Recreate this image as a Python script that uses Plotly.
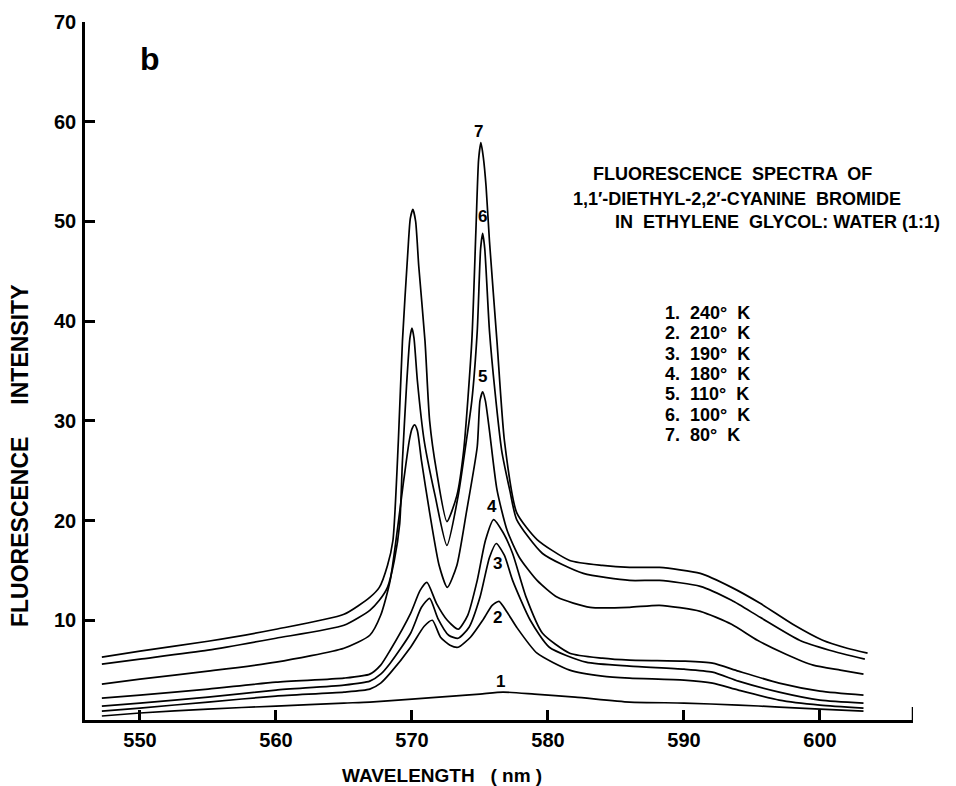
import plotly.graph_objects as go

# ---------------- data ----------------
wl7 = [547.2, 550, 555, 560, 565, 566.9, 567.6, 568.2, 568.6, 569.0, 569.3, 569.7, 569.88, 570.07, 570.27, 570.5, 570.96, 571.3, 571.8, 572.57, 573.3, 573.8, 574.4, 574.7, 574.9, 575.07, 575.25, 575.45, 575.7, 576.25, 576.8, 577.7, 579.2, 581.6, 584.0, 586.0, 588.2, 591.2, 593.5, 595.6, 598.0, 600.2, 602.0, 603.5]
fi7 = [6.3, 6.9, 7.9, 9.1, 10.6, 12.3, 13.3, 15.5, 18.0, 28.0, 38.0, 47.0, 50.3, 51.2, 50.0, 45.5, 38.0, 30.0, 25.0, 19.9, 22.5, 27.0, 38.0, 49.0, 56.2, 57.9, 56.4, 53.5, 48.0, 38.0, 28.0, 20.8, 18.1, 16.0, 15.5, 15.3, 15.3, 14.7, 13.3, 11.7, 9.6, 8.0, 7.2, 6.7]

wl6 = [547.2, 550, 555, 560, 565, 566.9, 567.6, 568.2, 568.7, 569.1, 569.3, 569.6, 569.85, 570.0, 570.15, 570.4, 570.9, 571.7, 572.57, 573.4, 574.0, 574.4, 574.8, 575.05, 575.2, 575.35, 575.7, 576.1, 576.6, 577.2, 577.7, 579.6, 582.6, 586.0, 588.2, 591.2, 593.5, 595.6, 598.5, 600.7, 603.3]
fi6 = [5.6, 6.1, 7.0, 8.2, 9.5, 11.0, 12.0, 13.3, 16.0, 19.7, 26.0, 33.5, 38.3, 39.3, 38.3, 34.0, 28.0, 22.5, 17.5, 22.5, 28.0, 32.0, 39.0, 47.3, 48.8, 47.3, 39.0, 33.0, 27.0, 23.0, 20.1, 16.7, 14.7, 14.0, 14.0, 13.4, 12.0, 10.3, 8.0, 7.0, 6.1]

wl5 = [547.2, 550, 555, 560, 565, 566.9, 567.7, 568.4, 569.4, 569.8, 570.0, 570.2, 570.4, 570.7, 571.3, 572.0, 572.6, 573.3, 574.0, 574.8, 575.0, 575.2, 575.4, 575.7, 576.25, 577.0, 577.9, 579.2, 580.7, 583.1, 586.0, 588.2, 591.2, 593.5, 595.4, 597.5, 599.5, 601.5, 603.2]
fi5 = [3.6, 4.1, 4.9, 5.8, 7.2, 8.5, 10.5, 14.0, 24.1, 28.0, 29.2, 29.6, 29.0, 26.0, 20.8, 15.5, 13.3, 15.5, 20.8, 27.4, 32.0, 32.9, 32.0, 29.0, 23.1, 19.0, 16.3, 14.0, 12.3, 11.3, 11.3, 11.5, 10.9, 9.6, 8.0, 6.6, 5.5, 5.0, 4.6]

wl4 = [547.2, 550, 555, 560, 565, 566.9, 567.7, 568.4, 569.9, 570.6, 571.1, 571.8, 572.6, 573.4, 574.1, 574.8, 575.4, 576.0, 576.7, 577.4, 578.4, 579.6, 581.6, 584.0, 586.0, 590.0, 592.1, 594.0, 597.0, 600.0, 603.2]
fi4 = [2.2, 2.5, 3.1, 3.8, 4.2, 4.6, 5.5, 7.0, 10.7, 13.0, 13.8, 11.7, 10.0, 9.1, 10.5, 14.0, 18.0, 20.1, 18.8, 16.7, 12.3, 8.7, 6.7, 6.2, 6.0, 5.9, 5.7, 4.9, 3.7, 2.9, 2.5]

wl3 = [547.2, 550, 555, 560, 565, 566.9, 567.7, 568.4, 569.9, 570.7, 571.3, 571.9, 572.7, 573.4, 574.2, 575.0, 575.7, 576.2, 576.8, 577.4, 578.7, 580.1, 582.8, 586.0, 590.0, 592.1, 594.0, 597.0, 600.0, 603.2]
fi3 = [1.4, 1.7, 2.3, 3.0, 3.5, 3.9, 4.6, 5.7, 8.7, 11.3, 12.2, 10.2, 8.5, 8.2, 9.3, 12.3, 16.3, 17.7, 16.5, 14.0, 10.0, 7.3, 5.8, 5.4, 5.1, 4.8, 3.9, 2.8, 2.0, 1.7]

wl2 = [547.2, 550, 555, 560, 565, 566.9, 567.7, 568.4, 569.9, 570.9, 571.5, 572.1, 572.8, 573.4, 574.3, 575.2, 575.9, 576.4, 577.0, 577.7, 579.2, 581.6, 584.0, 586.0, 590.0, 592.1, 594.0, 597.0, 600.0, 603.2]
fi2 = [0.9, 1.2, 1.8, 2.4, 2.8, 3.1, 3.7, 4.7, 7.3, 9.4, 10.0, 8.3, 7.5, 7.3, 8.3, 10.0, 11.5, 11.9, 10.8, 9.3, 6.7, 5.0, 4.4, 4.2, 4.0, 3.7, 3.0, 2.0, 1.5, 1.2]

wl1 = [547.2, 550, 555, 560, 565, 566.9, 570, 573, 575, 576.7, 579, 582, 586, 590, 594, 597, 600, 603.2]
fi1 = [0.4, 0.7, 1.1, 1.4, 1.7, 1.8, 2.1, 2.4, 2.6, 2.8, 2.6, 2.3, 1.8, 1.7, 1.5, 1.3, 1.1, 0.9]

curve_ids = ["1", "2", "3", "4", "5", "6", "7"]
temperatures = ["240°  K", "210°  K", "190°  K", "180°  K", "110°  K", "100°  K", "80°  K"]
curve_label_pos = [(576.5, 3.9), (576.3, 10.3), (576.3, 15.7), (575.9, 21.4), (575.2, 34.4), (575.2, 50.5), (574.9, 59.0)]

x_ticks = [550, 560, 570, 580, 590, 600]
y_ticks = [10, 20, 30, 40, 50, 60, 70]

title_lines = ["FLUORESCENCE  SPECTRA  OF",
               "1,1′-DIETHYL-2,2′-CYANINE  BROMIDE",
               "IN  ETHYLENE  GLYCOL: WATER (1:1)"]

# ---------------- figure ----------------
FONT = "Liberation Sans, Arial, Helvetica, sans-serif"
series = [(wl1, fi1), (wl2, fi2), (wl3, fi3), (wl4, fi4), (wl5, fi5), (wl6, fi6), (wl7, fi7)]

fig = go.Figure()
for (x, y), cid in zip(series, curve_ids):
    fig.add_trace(go.Scatter(x=x, y=y, mode="lines", name=cid,
                             line=dict(color="black", width=1.7, shape="spline", smoothing=0.6),
                             showlegend=False, hoverinfo="skip"))

XMIN, XMAX = 545.96, 606.84
fig.update_layout(
    width=956, height=786,
    margin=dict(l=85, r=43, t=22, b=66, autoexpand=False),
    paper_bgcolor="white", plot_bgcolor="white",
    font=dict(family=FONT, color="black"),
    xaxis=dict(range=[XMIN, XMAX], tickvals=x_ticks, ticktext=[str(v) for v in x_ticks],
               ticks="inside", ticklen=10, tickwidth=2.5, tickcolor="black",
               showline=True, linecolor="black", linewidth=2.5, showgrid=False, zeroline=False,
               tickfont=dict(size=20, weight="bold", family=FONT), ticklabelstandoff=0),
    yaxis=dict(range=[0, 70], tickvals=y_ticks, ticktext=[str(v) for v in y_ticks],
               ticks="inside", ticklen=10, tickwidth=2.5, tickcolor="black",
               showline=True, linecolor="black", linewidth=2.5, showgrid=False, zeroline=False,
               tickfont=dict(size=20, weight="bold", family=FONT), ticklabelstandoff=2),
)

# right-end upturn of the x axis
fig.add_shape(type="line", x0=XMAX, x1=XMAX, y0=0, y1=1.3, xref="x", yref="y",
              line=dict(color="black", width=2.5))

# curve number labels
for cid, (lx, ly) in zip(curve_ids, curve_label_pos):
    fig.add_annotation(x=lx, y=ly, text=cid, showarrow=False, xref="x", yref="y",
                       xanchor="center", yanchor="middle",
                       font=dict(size=17, weight="bold", family=FONT))

def px(xp):
    return (xp - 85) / 828.0

def py(yp):
    return (720 - yp) / 698.0

def note(xp, yp, text, size, xanchor="center", angle=0):
    fig.add_annotation(x=px(xp), y=py(yp), text=text, showarrow=False, xref="paper", yref="paper",
                       xanchor=xanchor, yanchor="middle", textangle=angle,
                       font=dict(size=size, weight="bold", family=FONT))

# panel letter
note(150, 59, "b", 32)

# descriptive title block
for t, (cx, cy) in zip(title_lines, [(732, 174), (737, 199), (777, 222)]):
    note(cx, cy, t, 18)

# temperature list
for i, (cid, tmp) in enumerate(zip(curve_ids, temperatures)):
    note(663, 313 + 20.3 * i, f"{cid}.  {tmp}", 18, xanchor="left")

# axis titles
note(442, 775, "WAVELENGTH   ( nm )", 19)
note(20, 456, "FLUORESCENCE     INTENSITY", 23, angle=-90)

fig.write_html("out.html", config={"displayModeBar": False},
               post_script="document.body.style.margin='0';")
